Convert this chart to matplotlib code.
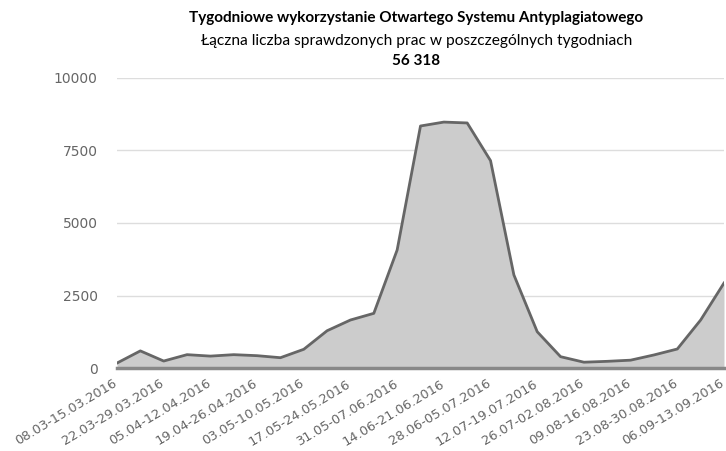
import matplotlib
matplotlib.use("Agg")
import matplotlib.pyplot as plt
import matplotlib.transforms as mtrans
import numpy as np

# tygodniowa liczba sprawdzonych prac
values = [170, 590, 240, 460, 410, 460, 425, 355, 645, 1285, 1655, 1885, 4070,
          8345, 8480, 8450, 7150, 3210, 1250, 390, 200, 230, 270, 450, 655, 1655, 2930]
tick_labels = ['08.03-15.03.2016', '22.03-29.03.2016', '05.04-12.04.2016',
               '19.04-26.04.2016', '03.05-10.05.2016', '17.05-24.05.2016',
               '31.05-07.06.2016', '14.06-21.06.2016', '28.06-05.07.2016',
               '12.07-19.07.2016', '26.07-02.08.2016', '09.08-16.08.2016',
               '23.08-30.08.2016', '06.09-13.09.2016']
y_ticks = [0, 2500, 5000, 7500, 10000]

title = 'Tygodniowe wykorzystanie Otwartego Systemu Antyplagiatowego'
subtitle = 'Łączna liczba sprawdzonych prac w poszczególnych tygodniach'
total = '56 318'

x = np.arange(len(values))

fig = plt.figure(figsize=(7.26, 4.51), dpi=100)
ax = fig.add_axes([117/726, 1-368/451, 607/726, 290/451])

ax.fill_between(x, values, 0, color='#cccccc', lw=0)
ax.plot(x, values, color='#666666', lw=2, solid_joinstyle='round')

ax.set_xlim(0, len(values)-1)
ax.set_ylim(0, 10000)
ax.set_yticks(y_ticks)
ax.set_yticklabels([str(v) for v in y_ticks], family='DejaVu Sans', fontsize=10)
ax.set_xticks(x[::2])
ax.set_xticklabels(tick_labels, rotation=31, ha='right', rotation_mode='anchor',
                   family='DejaVu Sans', fontsize=9.4)

ax.grid(axis='y', color='#dddddd', lw=1)
ax.set_axisbelow(True)
ax.axhline(0, color='#888888', lw=2.5, zorder=5, clip_on=False)
for s in ax.spines.values():
    s.set_visible(False)
ax.tick_params(length=0, colors='#666666')
ax.tick_params(axis='y', pad=14)
ax.tick_params(axis='x', pad=6.5)

# lekkie przesuniecie etykiet w lewo, zeby ostatnia nie wychodzila poza obraz
fig.canvas.draw()
shift = mtrans.ScaledTranslation(-4/100, 0, fig.dpi_scale_trans)
for lab in ax.get_xticklabels():
    lab.set_transform(lab.get_transform() + shift)

fig.text(416/726, 1-18/451, title, ha='center', va='center', fontsize=11,
         fontweight='bold', family='Lato')
fig.text(417/726, 1-41/451, subtitle, ha='center', va='center', fontsize=11.2,
         family='Lato')
fig.text(416/726, 1-61/451, total, ha='center', va='center', fontsize=11,
         fontweight='bold', family='Lato')

fig.savefig('out.png', dpi=100)
